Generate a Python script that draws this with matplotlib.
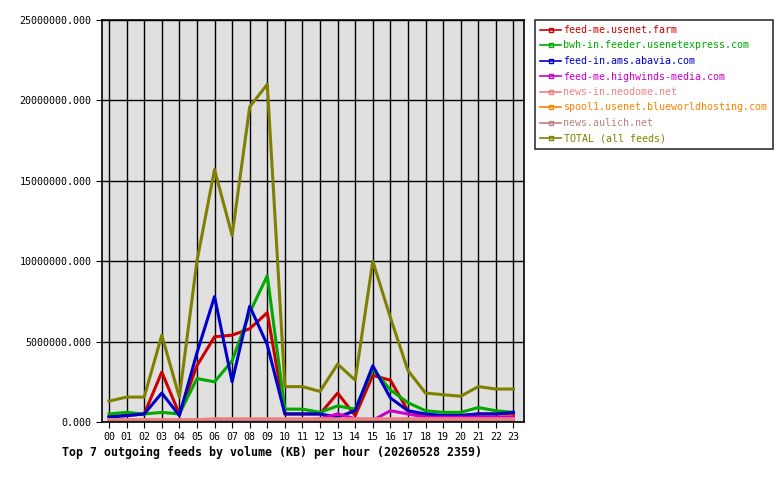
import matplotlib
matplotlib.use('Agg')
import matplotlib.pyplot as plt
from matplotlib.ticker import FuncFormatter
from matplotlib.lines import Line2D

hours = ['00', '01', '02', '03', '04', '05', '06', '07', '08', '09', '10', '11',
         '12', '13', '14', '15', '16', '17', '18', '19', '20', '21', '22', '23']

feeds = ['feed-me.usenet.farm', 'bwh-in.feeder.usenetexpress.com', 'feed-in.ams.abavia.com',
         'feed-me.highwinds-media.com', 'news-in.neodome.net', 'spool1.usenet.blueworldhosting.com',
         'news.aulich.net', 'TOTAL (all feeds)']
colors = ['#cc0000', '#00aa00', '#0000cc', '#cc00cc', '#f08080', '#ff8000', '#c08080', '#808000']

# values in millions of KB
usenet_farm = [0.35, 0.4, 0.5, 3.1, 0.5, 3.5, 5.3, 5.4, 5.8, 6.8, 0.5, 0.5,
               0.5, 1.8, 0.4, 2.9, 2.6, 0.7, 0.4, 0.4, 0.4, 0.5, 0.5, 0.5]
usenetexpress = [0.5, 0.6, 0.5, 0.6, 0.5, 2.7, 2.5, 3.8, 6.8, 9.1, 0.8, 0.8,
                 0.6, 1.0, 0.8, 3.3, 2.0, 1.2, 0.7, 0.6, 0.6, 0.9, 0.7, 0.6]
abavia = [0.3, 0.4, 0.5, 1.8, 0.4, 4.3, 7.8, 2.5, 7.2, 4.8, 0.5, 0.5,
          0.5, 0.3, 0.7, 3.5, 1.5, 0.7, 0.5, 0.4, 0.4, 0.5, 0.5, 0.6]
highwinds = [0.1, 0.1, 0.1, 0.1, 0.1, 0.1, 0.1, 0.1, 0.1, 0.1, 0.1, 0.1,
             0.2, 0.5, 0.2, 0.1, 0.7, 0.5, 0.3, 0.3, 0.3, 0.3, 0.3, 0.3]
neodome = [0.15, 0.15, 0.15, 0.15, 0.15, 0.15, 0.2, 0.2, 0.2, 0.2, 0.2, 0.2,
           0.2, 0.2, 0.2, 0.2, 0.2, 0.2, 0.2, 0.2, 0.2, 0.2, 0.2, 0.2]
blueworld = [0.02] * 24
aulich = [0.05] * 24
total = [1.3, 1.55, 1.55, 5.4, 1.55, 10.0, 15.7, 11.6, 19.6, 21.0, 2.2, 2.2,
         1.9, 3.6, 2.6, 10.0, 6.5, 3.2, 1.8, 1.7, 1.6, 2.2, 2.05, 2.05]

series = [usenet_farm, usenetexpress, abavia, highwinds, neodome, blueworld, aulich, total]

plt.rcParams['font.family'] = 'DejaVu Sans Mono'
fig = plt.figure(figsize=(7.8, 4.8), dpi=100)
ax = fig.add_axes([102 / 780, 58 / 480, 422 / 780, 402 / 480])
ax.set_facecolor('#e0e0e0')

x = list(range(len(hours)))
for name, vals, c in zip(feeds, series, colors):
    ax.plot(x, [v * 1e6 for v in vals], color=c, linewidth=2.2, label=name)

ax.set_xlim(-0.4, 23.6)
ax.set_ylim(0, 25e6)
ax.set_xticks(x)
ax.set_xticklabels(hours)
ax.set_yticks([0, 5e6, 10e6, 15e6, 20e6, 25e6])
ax.yaxis.set_major_formatter(FuncFormatter(lambda v, p: '%.3f' % v))
ax.tick_params(labelsize=7.2, length=4, color='black')
ax.grid(True, color='black', linewidth=1)
ax.set_axisbelow(True)
for s in ax.spines.values():
    s.set_linewidth(1.2)

fig.text(62 / 780, 1 - 452 / 480, 'Top 7 outgoing feeds by volume (KB) per hour (20260528 2359)',
         fontsize=8.4, fontweight='bold', va='center')

handles = [Line2D([0], [0], color=c, linewidth=1.2, marker='s', markersize=3,
                  markerfacecolor='none', markevery=[1]) for c in colors]
leg = fig.legend(handles, feeds, loc='upper left', bbox_to_anchor=(535 / 780, 1 - 20 / 480),
                 fontsize=7.2, frameon=True, fancybox=False, edgecolor='black',
                 handlelength=2.1, handletextpad=0.25, labelspacing=0.55, borderpad=0.5,
                 borderaxespad=0)
leg.get_frame().set_linewidth(1.2)
for t, c in zip(leg.get_texts(), colors):
    t.set_color(c)

fig.savefig('out.png', dpi=100)
